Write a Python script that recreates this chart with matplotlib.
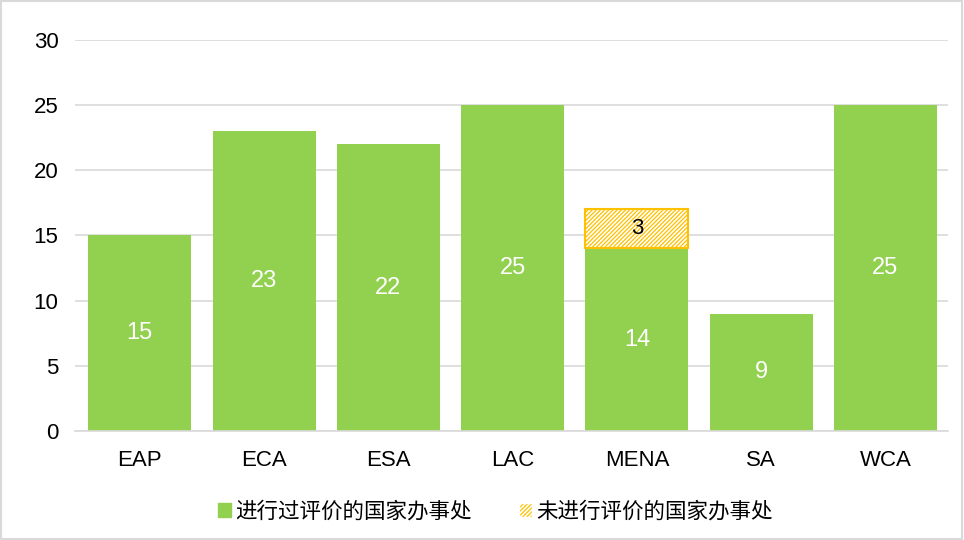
import matplotlib.pyplot as plt
from matplotlib.patches import Patch, Rectangle

plt.rcParams['font.family'] = ['Liberation Sans', 'Noto Sans CJK SC', 'DejaVu Sans']

# data
regions = ['EAP', 'ECA', 'ESA', 'LAC', 'MENA', 'SA', 'WCA']
evaluated = [15, 23, 22, 25, 14, 9, 25]
not_evaluated = [0, 0, 0, 0, 3, 0, 0]
legend_labels = ['进行过评价的国家办事处', '未进行评价的国家办事处']

green = '#92D050'
orange = '#FFC000'

fig = plt.figure(figsize=(9.64, 5.4), dpi=100)
ax = fig.add_axes([0.078, 0.202, 0.905, 0.724])

x = list(range(len(regions)))
ax.bar(x, evaluated, width=0.83, color=green, zorder=2)

# hatched part only where there is a value
plt.rcParams['hatch.linewidth'] = 1.2
hx = [i for i in x if not_evaluated[i] > 0]
hv = [not_evaluated[i] for i in hx]
hb = [evaluated[i] for i in hx]
ax.bar(hx, hv, width=0.83, bottom=hb, color=orange,
       edgecolor='white', hatch='////////', linewidth=0, zorder=2)
ax.bar(hx, hv, width=0.83, bottom=hb, fill=False,
       edgecolor=orange, linewidth=1.5, zorder=3)

for i in x:
    ax.text(i, evaluated[i] / 2, str(evaluated[i]), ha='center', va='center',
            color='white', fontsize=17, zorder=4)
    if not_evaluated[i]:
        ax.text(i, evaluated[i] + not_evaluated[i] / 2, str(not_evaluated[i]),
                ha='center', va='center', color='black', fontsize=16, zorder=4)

ax.set_ylim(0, 30)
ax.set_yticks(range(0, 31, 5))
ax.set_xlim(-0.52, 6.5)
ax.set_xticks(x)
ax.set_xticklabels(regions)
ax.tick_params(axis='both', length=0, labelsize=16, colors='#000000')
ax.tick_params(axis='x', pad=14)
ax.tick_params(axis='y', pad=12)
ax.grid(axis='y', color='#D9D9D9', linewidth=1.2, zorder=0)
for s in ['top', 'right', 'left']:
    ax.spines[s].set_visible(False)
ax.spines['bottom'].set_color('#D9D9D9')
ax.spines['bottom'].set_linewidth(1.2)

handles = [Patch(facecolor=green, edgecolor=green),
           Patch(facecolor=orange, edgecolor='white', hatch='////////')]
fig.legend(handles, legend_labels, loc='center', bbox_to_anchor=(0.514, 0.052),
           ncol=2, frameon=False, fontsize=15.5, handlelength=0.6, handleheight=0.6,
           handletextpad=0.2, columnspacing=2.2)

fig.patches.append(Rectangle((0.001, 0.001), 0.997, 0.997, transform=fig.transFigure,
                             fill=False, edgecolor='#D9D9D9', linewidth=1.5))

fig.savefig('out.png', dpi=100)
